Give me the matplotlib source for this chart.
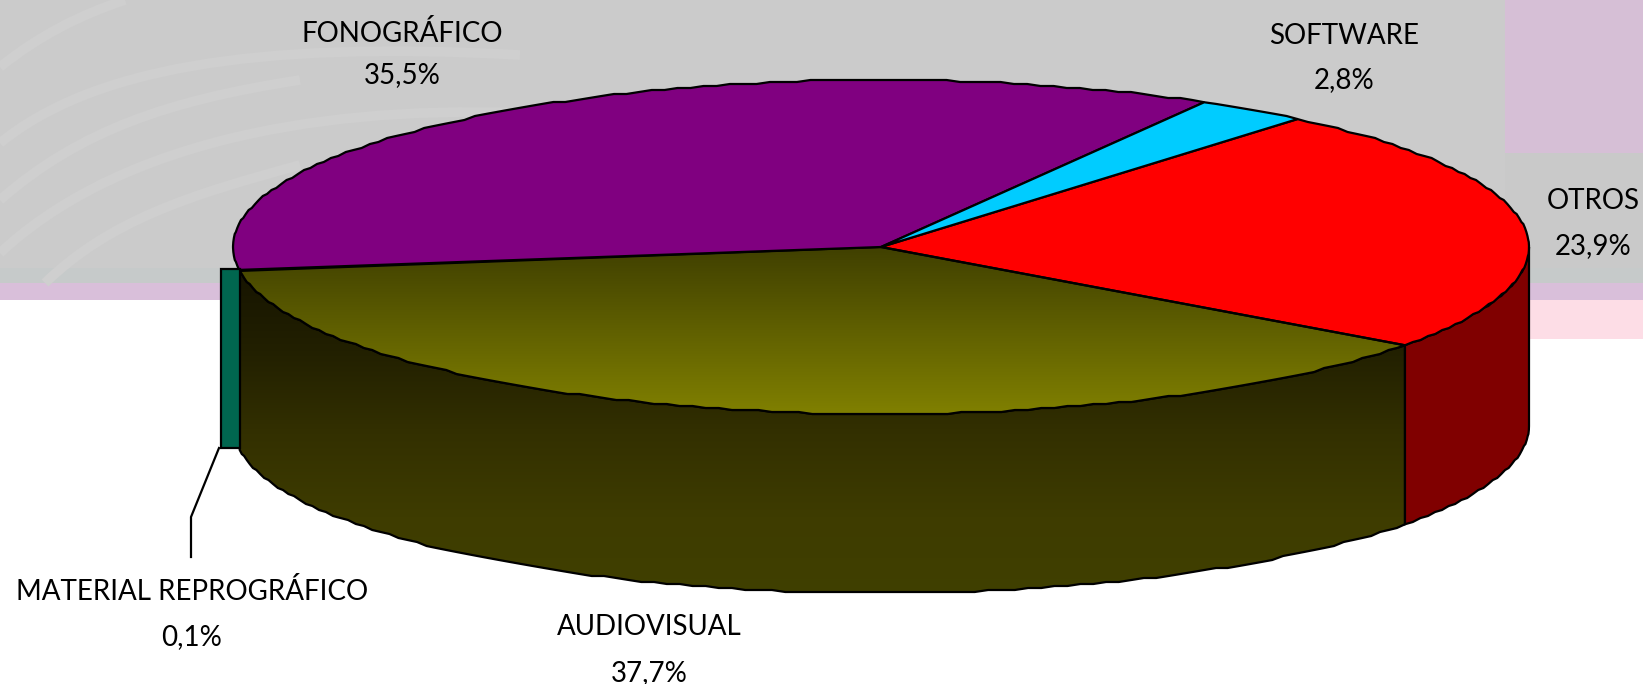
import numpy as np
import matplotlib
matplotlib.use("Agg")
import matplotlib.pyplot as plt
from matplotlib.patches import Polygon, Rectangle, PathPatch
from matplotlib.path import Path
from matplotlib.colors import LinearSegmentedColormap

# datos del grafico (porcentajes, en sentido horario desde OTROS)
names = ["OTROS", "AUDIOVISUAL", "MATERIAL REPROGRÁFICO", "FONOGRÁFICO", "SOFTWARE"]
values = [23.9, 37.7, 0.1, 35.5, 2.8]
pct_labels = ["23,9%", "37,7%", "0,1%", "35,5%", "2,8%"]
colors = ["#ff0000", "#808000", "#00664f", "#800080", "#00ccff"]

W, H = 1643, 684
cx, cy = 881, 247
a, b = 648, 167
depth = 179
start = 50.0
lw = 1.6

plt.rcParams["font.family"] = ["Lato", "DejaVu Sans"]
fig = plt.figure(figsize=(W / 100, H / 100), dpi=100)
ax = fig.add_axes([0, 0, 1, 1])
ax.set_xlim(0, W)
ax.set_ylim(H, 0)
ax.axis("off")


def rim(t1, t2, dy=0):
    # puntos del borde de la elipse, un poco escalonados como en el original
    n = max(2, int(abs(t2 - t1) / 1.2) + 1)
    t = np.radians(np.linspace(t1, t2, n))
    x = cx + a * np.cos(t)
    y = cy - b * np.sin(t) + dy
    y[1:-1] = np.round(y[1:-1] / 2.0) * 2.0
    return np.column_stack([x, y])


def gradient(poly, stops, y0, y1):
    cmap = LinearSegmentedColormap.from_list("g", stops)
    img = np.linspace(0, 1, 256).reshape(-1, 1)
    im = ax.imshow(img, cmap=cmap, extent=[0, W, y1, y0], aspect="auto", zorder=poly.get_zorder() - 0.1)
    im.set_clip_path(poly)


# fondo
ax.add_patch(Rectangle((0, 0), 1505, 268, color="#cbcbcb", lw=0, zorder=0))
ax.add_patch(Rectangle((1505, 0), 138, 153, color="#d6bfd6", lw=0, zorder=0))
ax.add_patch(Rectangle((1505, 153), 138, 115, color="#c9c9c9", lw=0, zorder=0))
ax.add_patch(Rectangle((0, 268), W, 15, color="#c6caca", lw=0, zorder=0))
ax.add_patch(Rectangle((0, 283), W, 17, color="#d9bfda", lw=0, zorder=0))
ax.add_patch(Rectangle((1500, 300), 143, 39, color="#fddde6", lw=0, zorder=0))

curves = [
    [(0, 253), (110, 150), (300, 105), (520, 113)],
    [(45, 283), (110, 220), (190, 195), (300, 165)],
    [(0, 143), (90, 70), (250, 40), (520, 55)],
    [(0, 67), (40, 35), (80, 15), (125, 0)],
    [(0, 200), (80, 130), (170, 100), (300, 80)],
]
for c in curves:
    p = Path(c, [Path.MOVETO, Path.CURVE4, Path.CURVE4, Path.CURVE4])
    ax.add_patch(PathPatch(p, fc="none", ec="#cfcfcf", lw=7, zorder=0.5))

# angulos de cada porcion
spans = np.array(values) / sum(values) * 360
ends = start - np.cumsum(spans)
starts = np.concatenate([[start], ends[:-1]])

# caras laterales
side_a = np.vstack([rim(starts[1], ends[1]), rim(ends[1], starts[1], depth)])
side_a = Polygon(side_a, closed=True, fc="none", ec="black", lw=lw, zorder=3)
ax.add_patch(side_a)
gradient(side_a, ["#161400", "#222000", "#333000", "#3e3c00", "#404000"], 268, 600)

side_r = np.vstack([rim(0, ends[0]), rim(ends[0], 0, depth)])
ax.add_patch(Polygon(side_r, closed=True, fc="#800000", ec="black", lw=lw, zorder=3))

# caras superiores
for i in [0, 1, 3, 4]:
    pts = np.vstack([[cx, cy], rim(starts[i], ends[i])])
    if i == 1:
        poly = Polygon(pts, closed=True, fc="none", ec="black", lw=lw, zorder=5)
        ax.add_patch(poly)
        gradient(poly, ["#404000", "#808000"], cy, cy + b)
    else:
        ax.add_patch(Polygon(pts, closed=True, fc=colors[i], ec="black", lw=lw, zorder=5))

# porcion separada (0,1%): solo se ve su cara lateral
x_r = cx + a * np.cos(np.radians(ends[1]))
y_t = cy - b * np.sin(np.radians(ends[1]))
ax.add_patch(Rectangle((x_r - 19, y_t - 2), 19, depth, fc=colors[2], ec="black", lw=lw, zorder=6))
ax.plot([219, 191, 191], [448, 517, 557], color="black", lw=lw, zorder=6)

# etiquetas
label_pos = [(1593, 201, 246), (649, 627, 673), (192, 592, 637), (402, 33, 75), (1344, 36, 80)]
for nm, pc, (x, y1, y2) in zip(names, pct_labels, label_pos):
    ax.text(x, y1, nm, ha="center", va="center", fontsize=20, color="black", zorder=8)
    ax.text(x, y2, pc, ha="center", va="center", fontsize=20, color="black", zorder=8)

ax.set_xlim(0, W)
ax.set_ylim(H, 0)
fig.savefig("out.png", dpi=100)
